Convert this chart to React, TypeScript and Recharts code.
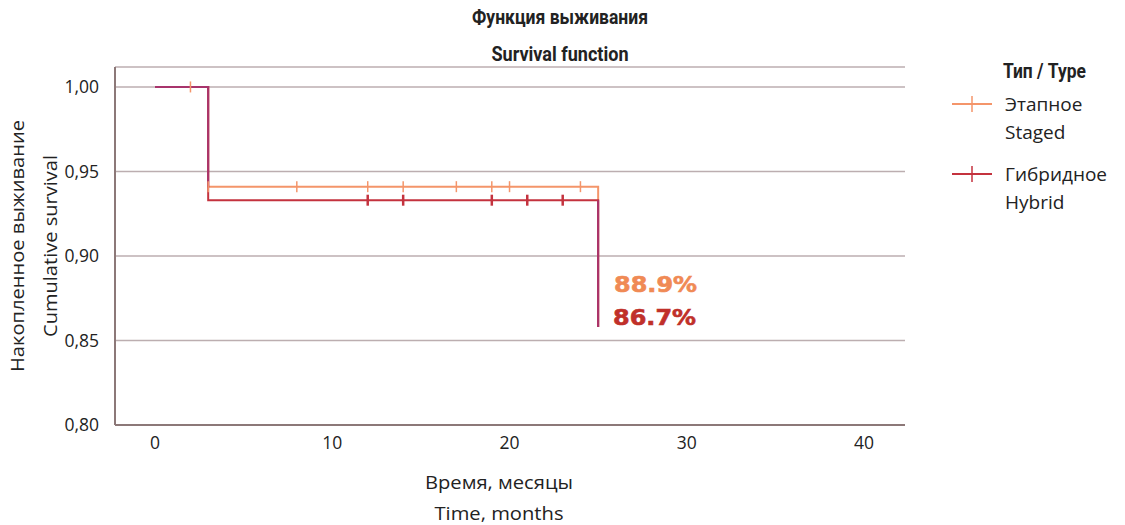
import { ComposedChart, Line, Scatter, XAxis, YAxis, CartesianGrid } from "recharts";

// Kaplan–Meier steps: time of event and survival after it
const stagedSteps = [
  { t: 0, s: 1.0 },
  { t: 3, s: 0.941 },
  { t: 25, s: 0.858 },
];
const hybridSteps = [
  { t: 0, s: 1.0 },
  { t: 3, s: 0.933 },
  { t: 25, s: 0.858 },
];
// parts where both curves coincide (drawn in the blended colour)
const sharedPath = [
  { t: 0, s: 1.0 },
  { t: 3, s: 1.0 },
  { t: 3, s: 0.941 },
  { t: 25, s: null },
  { t: 25, s: 0.933 },
  { t: 25, s: 0.858 },
];

const stagedCensored = [
  { t: 2, s: 1.0 },
  { t: 3, s: 0.941 },
  { t: 8, s: 0.941 },
  { t: 12, s: 0.941 },
  { t: 14, s: 0.941 },
  { t: 17, s: 0.941 },
  { t: 19, s: 0.941 },
  { t: 20, s: 0.941 },
  { t: 24, s: 0.941 },
];
const hybridCensored = [
  { t: 12, s: 0.933 },
  { t: 14, s: 0.933 },
  { t: 19, s: 0.933 },
  { t: 21, s: 0.933 },
  { t: 23, s: 0.933 },
];

const xTicks = [0, 10, 20, 30, 40];
const yTicks = [0.8, 0.85, 0.9, 0.95, 1.0];

const STAGED = "#f4956a";
const HYBRID = "#c4323e";
const SHARED = "#a8346c";
const AXIS = "#8c7878";
const GRID = "#bcaeb0";
const FONT = "'Open Sans', 'Noto Sans', sans-serif";
const NARROW = "'Liberation Sans Narrow', 'Roboto', sans-serif";

function toPath(steps: { t: number; s: number }[]) {
  const out: { t: number; s: number }[] = [];
  steps.forEach((p, i) => {
    if (i > 0) out.push({ t: p.t, s: steps[i - 1].s });
    out.push(p);
  });
  return out;
}

const censorMark = (color: string, w: number) => (props: any) => (
  <line
    x1={props.cx}
    x2={props.cx}
    y1={props.cy - 5.5}
    y2={props.cy + 5.5}
    stroke={color}
    strokeWidth={w}
  />
);

export default function App() {
  return (
    <div style={{ position: "absolute", left: 0, top: 0, width: 1125, height: 525, background: "#fff" }}>
      <ComposedChart
        width={1125}
        height={525}
        margin={{ top: 67, right: 220, left: 55, bottom: 70 }}
      >
        <CartesianGrid vertical={false} stroke={GRID} strokeWidth={1.5} />
        <XAxis
          dataKey="t"
          type="number"
          domain={[-2.257, 42.31]}
          ticks={xTicks}
          allowDataOverflow
          height={30}
          tickLine={false}
          axisLine={{ stroke: AXIS, strokeWidth: 2 }}
          tick={{ fontSize: 17.5, fill: "#222", fontFamily: FONT }}
          tickMargin={6}
        />
        <YAxis
          type="number"
          domain={[0.8, 1.0118]}
          ticks={yTicks}
          allowDataOverflow
          width={60}
          tickLine={false}
          axisLine={{ stroke: AXIS, strokeWidth: 2 }}
          tick={{ fontSize: 17.5, fill: "#222", fontFamily: FONT }}
          tickMargin={10}
          tickFormatter={(v: number) => v.toFixed(2).replace(".", ",")}
        />
        <Line
          data={toPath(stagedSteps)}
          dataKey="s"
          type="linear"
          stroke={STAGED}
          strokeWidth={2}
          dot={false}
          isAnimationActive={false}
        />
        <Line
          data={toPath(hybridSteps)}
          dataKey="s"
          type="linear"
          stroke={HYBRID}
          strokeWidth={2}
          dot={false}
          isAnimationActive={false}
        />
        <Line
          data={sharedPath}
          dataKey="s"
          type="linear"
          stroke={SHARED}
          strokeWidth={2}
          dot={false}
          connectNulls={false}
          isAnimationActive={false}
        />
        <Scatter data={stagedCensored} dataKey="s" shape={censorMark(STAGED, 1.5)} isAnimationActive={false} />
        <Scatter data={hybridCensored} dataKey="s" shape={censorMark(HYBRID, 2.5)} isAnimationActive={false} />
      </ComposedChart>

      <svg
        width={1125}
        height={525}
        style={{ position: "absolute", left: 0, top: 0, pointerEvents: "none" }}
      >
        <text x={560} y={24} textAnchor="middle" fontFamily={NARROW} fontWeight="bold" fontSize={20} fill="#222" textLength={176} lengthAdjust="spacingAndGlyphs">
          Функция выживания
        </text>
        <text x={560} y={61} textAnchor="middle" fontFamily={NARROW} fontWeight="bold" fontSize={20} fill="#222" textLength={137} lengthAdjust="spacingAndGlyphs">
          Survival function
        </text>

        <text transform="translate(24,246) rotate(-90)" textAnchor="middle" fontFamily={FONT} fontSize={18} fill="#222" textLength={252} lengthAdjust="spacingAndGlyphs">
          Накопленное выживание
        </text>
        <text transform="translate(57,246) rotate(-90)" textAnchor="middle" fontFamily={FONT} fontSize={18} fill="#222" textLength={182} lengthAdjust="spacingAndGlyphs">
          Cumulative survival
        </text>

        <text x={499} y={489} textAnchor="middle" fontFamily={FONT} fontSize={18} fill="#222" textLength={148} lengthAdjust="spacingAndGlyphs">
          Время, месяцы
        </text>
        <text x={499} y={520} textAnchor="middle" fontFamily={FONT} fontSize={18} fill="#222" textLength={129} lengthAdjust="spacingAndGlyphs">
          Time, months
        </text>

        <text x={614} y={292} fontFamily="'DejaVu Sans', sans-serif" fontWeight="bold" fontSize={21} fill="#f08a55" stroke="#f08a55" strokeWidth={0.6} textLength={83} lengthAdjust="spacingAndGlyphs">
          88.9%
        </text>
        <text x={613} y={325} fontFamily="'DejaVu Sans', sans-serif" fontWeight="bold" fontSize={21} fill="#c0302a" stroke="#c0302a" strokeWidth={0.6} textLength={83} lengthAdjust="spacingAndGlyphs">
          86.7%
        </text>

        <text x={1003} y={78} fontFamily={NARROW} fontWeight="bold" fontSize={20} fill="#222" textLength={83} lengthAdjust="spacingAndGlyphs">
          Тип / Type
        </text>
        <line x1={952} x2={992} y1={104} y2={104} stroke={STAGED} strokeWidth={2} />
        <line x1={972} x2={972} y1={96} y2={112} stroke={STAGED} strokeWidth={1.5} />
        <text x={1005} y={111} fontFamily={FONT} fontSize={19} fill="#222">Этапное</text>
        <text x={1005} y={139} fontFamily={FONT} fontSize={19} fill="#222">Staged</text>
        <line x1={952} x2={992} y1={174} y2={174} stroke={HYBRID} strokeWidth={2} />
        <line x1={972} x2={972} y1={166} y2={182} stroke={HYBRID} strokeWidth={1.5} />
        <text x={1005} y={181} fontFamily={FONT} fontSize={19} fill="#222">Гибридное</text>
        <text x={1005} y={209} fontFamily={FONT} fontSize={19} fill="#222">Hybrid</text>
      </svg>
    </div>
  );
}
